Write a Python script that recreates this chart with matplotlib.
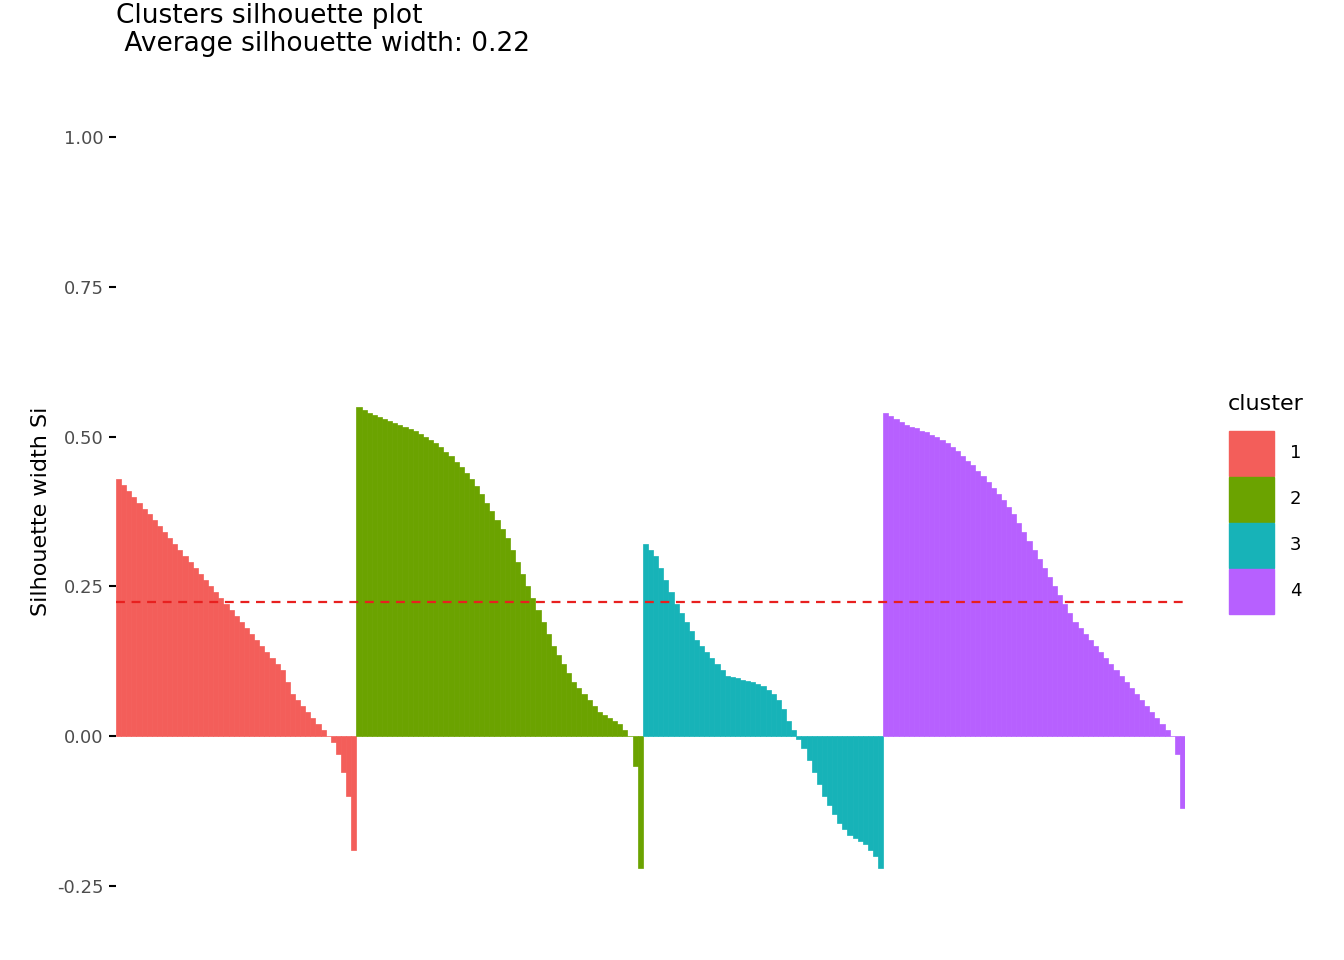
import matplotlib.pyplot as plt
from matplotlib.patches import Rectangle

clusters = ["1", "2", "3", "4"]
colors = ["#F35E5A", "#6BA300", "#17B3B8", "#B760FF"]
avg_width = 0.224

sil_1 = [0.43, 0.42, 0.41, 0.40, 0.39, 0.38, 0.37, 0.36, 0.35, 0.34,
         0.33, 0.32, 0.31, 0.30, 0.29, 0.28, 0.27, 0.26, 0.25,
         0.24, 0.23, 0.22, 0.21, 0.20, 0.19, 0.18, 0.17, 0.16,
         0.15, 0.14, 0.13, 0.12, 0.11,
         0.09, 0.07, 0.06, 0.05, 0.04, 0.03, 0.02, 0.01,
         0.00, -0.01, -0.03, -0.06, -0.10, -0.19]
sil_2 = [0.55, 0.545, 0.54, 0.537, 0.533, 0.53, 0.527, 0.523, 0.52, 0.517,
         0.513, 0.51, 0.505, 0.50, 0.495, 0.49, 0.483, 0.475, 0.467, 0.458,
         0.45, 0.44, 0.43, 0.418, 0.405, 0.39, 0.375, 0.36, 0.345, 0.33,
         0.31, 0.29, 0.27, 0.25, 0.23, 0.21, 0.19, 0.17, 0.15,
         0.135, 0.12, 0.105, 0.09, 0.08, 0.07, 0.06, 0.05, 0.04, 0.035,
         0.03, 0.025, 0.02, 0.01, 0.0, -0.05, -0.22]
sil_3 = [0.32, 0.31, 0.30, 0.28, 0.26, 0.24, 0.22, 0.205, 0.19, 0.175,
         0.16, 0.15, 0.14, 0.13, 0.12, 0.11, 0.10, 0.098, 0.096, 0.094,
         0.092, 0.09, 0.087, 0.083, 0.077, 0.07, 0.06, 0.045, 0.025, 0.01,
         -0.005, -0.02, -0.04, -0.06, -0.08, -0.10, -0.115, -0.13, -0.145,
         -0.155, -0.165, -0.17, -0.175, -0.18, -0.19, -0.20, -0.22]
sil_4 = [0.54, 0.535, 0.53, 0.525, 0.52, 0.517, 0.514, 0.51, 0.507, 0.503,
         0.50, 0.495, 0.49, 0.483, 0.476, 0.468, 0.46, 0.452, 0.443, 0.434,
         0.425, 0.415, 0.405, 0.395, 0.383, 0.37, 0.355, 0.34, 0.325, 0.31,
         0.295, 0.28, 0.265, 0.25, 0.235, 0.22, 0.205, 0.19, 0.18, 0.17,
         0.16, 0.15, 0.14, 0.13, 0.12, 0.11, 0.10, 0.09, 0.08, 0.07,
         0.06, 0.05, 0.04, 0.03, 0.02, 0.01, 0.0, -0.03, -0.12]
series = [sil_1, sil_2, sil_3, sil_4]

fig = plt.figure(figsize=(13.44, 9.6), dpi=100)
ax = fig.add_axes([116 / 1344, 1 - 923 / 960, (1185 - 116) / 1344, (923 - 100) / 960])

pos = 0
for vals, c in zip(series, colors):
    xs = list(range(pos, pos + len(vals)))
    ax.bar(xs, vals, width=1.0, color=c, edgecolor=c, linewidth=0.5)
    pos += len(vals)

ax.axhline(avg_width, color="#E8201F", linestyle=(0, (4, 3)), linewidth=1.6)
ax.set_xlim(-0.5, pos - 0.5)
ax.set_ylim(-0.3125, 1.0625)
ax.set_yticks([-0.25, 0, 0.25, 0.5, 0.75, 1.0])
ax.set_yticklabels(["-0.25", "0.00", "0.25", "0.50", "0.75", "1.00"])
ax.set_xticks([])
ax.tick_params(axis="y", length=5, width=1.5, labelsize=13, colors="black",
               labelcolor="#4D4D4D", pad=4)
for s in ax.spines.values():
    s.set_visible(False)
ax.set_ylabel("Silhouette width Si", fontsize=16)

fig.text(116 / 1344, 1 - 30 / 960, "Clusters silhouette plot\n Average silhouette width: 0.22",
         fontsize=19, va="center", ha="left", linespacing=1.1)

# legend
fig.text(1228 / 1344, 1 - 404 / 960, "cluster", fontsize=16, va="center", ha="left")
for i, (lab, c) in enumerate(zip(clusters, colors)):
    top = 430 + i * 46
    fig.patches.append(Rectangle((1229 / 1344, 1 - (top + 46) / 960), 45 / 1344, 45 / 960,
                                 transform=fig.transFigure, color=c))
    fig.text(1290 / 1344, 1 - (top + 23) / 960, lab, fontsize=13, va="center", ha="left")

fig.savefig("out.png", dpi=100)
